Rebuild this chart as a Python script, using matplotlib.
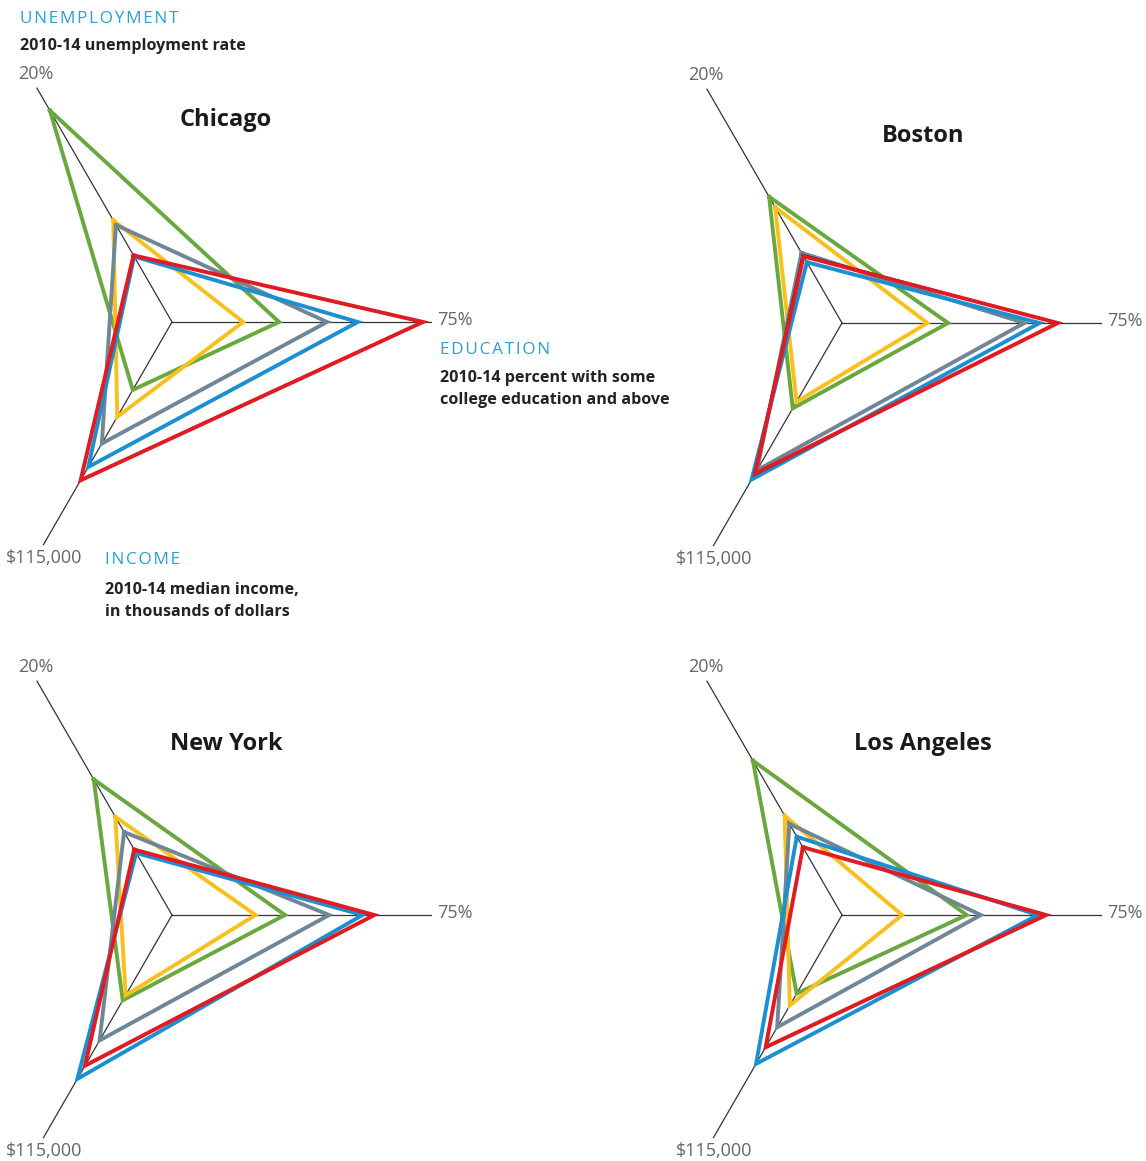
import numpy as np
import matplotlib.pyplot as plt

W, H = 1146, 1161
plt.rcParams['font.family'] = ['Open Sans', 'DejaVu Sans']

cities = ['Chicago', 'Boston', 'New York', 'Los Angeles']
centers = [(172, 322), (842, 323), (172, 915), (842, 915)]
title_pos = [(226, 120), (923, 136), (226, 744), (923, 744)]

# series order: green, yellow, gray, blue, black, red
colors = ['#68a83d', '#f8c01c', '#6e8696', '#1b8fd2', '#1a1a1a', '#e21b23']
widths = [2.8, 2.8, 2.8, 2.8, 1.8, 2.8]

# 2010-14 unemployment rate, %
unemp_chicago = [18.1, 8.7, 8.3, 5.6, 5.7, 5.7]
unemp_boston = [10.8, 9.9, 6.0, 5.2, 5.8, 5.7]
unemp_newyork = [11.6, 8.4, 7.1, 5.3, 5.6, 5.6]
unemp_la = [13.2, 8.5, 7.8, 6.7, 5.8, 5.8]

# 2010-14 percent with some college education and above
educ_chicago = [31.0, 20.6, 44.9, 53.8, 72.5, 72.7]
educ_boston = [30.7, 24.7, 52.8, 57.2, 62.3, 62.5]
educ_newyork = [32.7, 24.2, 45.5, 55.2, 58.4, 58.6]
educ_la = [36.1, 17.4, 40.2, 56.7, 59.3, 59.1]

# 2010-14 median income, thousands of dollars
inc_chicago = [35.1, 49.0, 62.8, 74.9, 81.6, 81.8]
inc_boston = [44.1, 40.7, 76.1, 80.9, 78.3, 77.8]
inc_newyork = [44.1, 41.5, 64.8, 84.7, 78.2, 77.8]
inc_la = [40.6, 46.7, 58.0, 76.9, 68.6, 68.3]

unemp = [unemp_chicago, unemp_boston, unemp_newyork, unemp_la]
educ = [educ_chicago, educ_boston, educ_newyork, educ_la]
inc = [inc_chicago, inc_boston, inc_newyork, inc_la]

axis_max = [20, 75, 115]
axis_len = [270, 259, 257]       # pixels from centre to end of each spoke
axis_theta = np.deg2rad([120, 0, 240])
RLIM = 285


def px(x, y):
    return x / W, 1 - y / H


fig = plt.figure(figsize=(W / 100, H / 100), dpi=100)

for i, city in enumerate(cities):
    cx, cy = centers[i]
    ax = fig.add_axes([(cx - RLIM) / W, (H - cy - RLIM) / H, 2 * RLIM / W, 2 * RLIM / H],
                      projection='polar')
    ax.set_ylim(0, RLIM)
    ax.axis('off')

    # spokes
    for th, L in zip(axis_theta, axis_len):
        ax.plot([th, th], [0, L], color='#333333', lw=0.9, zorder=1, clip_on=False)

    # one closed triangle per group
    for k in range(len(colors)):
        vals = [unemp[i][k], educ[i][k], inc[i][k]]
        r = [v / m * L for v, m, L in zip(vals, axis_max, axis_len)]
        th = list(axis_theta) + [axis_theta[0]]
        r = r + [r[0]]
        ax.plot(th, r, color=colors[k], lw=widths[k], zorder=2 + k,
                solid_joinstyle='miter', clip_on=False)

    fig.text(*px(cx - 136, cy - 248), '20%', ha='center', va='center',
             fontsize=13, color='#666666')
    fig.text(*px(cx + 265, cy - 2), '75%', ha='left', va='center',
             fontsize=13, color='#666666')
    fig.text(*px(cx - 128, cy + 236), '$115,000', ha='center', va='center',
             fontsize=13, color='#666666')

    tx, ty = title_pos[i]
    fig.text(*px(tx, ty), city, ha='center', va='center', fontsize=17,
             fontweight='bold', color='#1a1a1a')


def spaced(s):
    return '\u200a'.join(s)


blue_txt = '#2a9fd8'
fig.text(*px(20, 19), spaced('UNEMPLOYMENT'), ha='left', va='center',
         fontsize=12.3, color=blue_txt)
fig.text(*px(20, 46), '2010-14 unemployment rate', ha='left', va='center',
         fontsize=11.6, fontweight='bold', color='#222222')

fig.text(*px(440, 350), spaced('EDUCATION'), ha='left', va='center',
         fontsize=12.3, color=blue_txt)
fig.text(*px(440, 389), '2010-14 percent with some\ncollege education and above',
         ha='left', va='center', fontsize=11.6, fontweight='bold',
         color='#222222', linespacing=1.45)

fig.text(*px(105, 560), spaced('INCOME'), ha='left', va='center',
         fontsize=12.3, color=blue_txt)
fig.text(*px(105, 601), '2010-14 median income,\nin thousands of dollars',
         ha='left', va='center', fontsize=11.6, fontweight='bold',
         color='#222222', linespacing=1.45)

fig.savefig('out.png', dpi=100, facecolor='white')
